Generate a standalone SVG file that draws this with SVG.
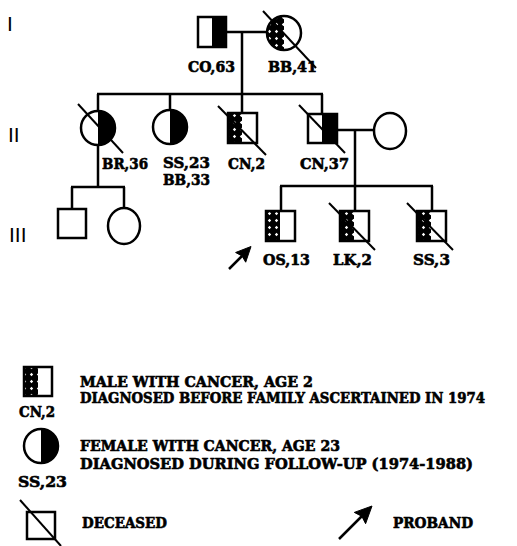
<svg xmlns="http://www.w3.org/2000/svg" width="517" height="546" viewBox="0 0 517 546">
<style>
.s{fill:none;stroke:#000;stroke-width:2.5}
.w{fill:#fff;stroke:#000;stroke-width:2.5}
.b{fill:#000;stroke:none}
.h{fill:url(#hatch);stroke:none}
.ln{stroke:#000;stroke-width:2.5;fill:none}
.d{stroke:#000;stroke-width:2;fill:none}
.lbl{font-family:"DejaVu Serif","Liberation Serif",serif;font-weight:bold;font-size:14px;fill:#000;stroke:#000;stroke-width:0.6}
.leg{font-family:"DejaVu Serif","Liberation Serif",serif;font-weight:bold;font-size:14px;fill:#000;stroke:#000;stroke-width:0.6}
.gen{font-family:"Liberation Sans",Arial,sans-serif;font-size:21px;fill:#000}
.ah{fill:#000;stroke:#000;stroke-width:1;stroke-linejoin:round}
</style>
<defs>
<pattern id="hatch" patternUnits="userSpaceOnUse" width="7" height="7">
<rect width="7" height="7" fill="#000"/>
<polygon points="3.5,1.8 5.2,3.5 3.5,5.2 1.8,3.5" fill="#fff"/>
</pattern>
</defs>

<g id="generation-labels">
<text class="gen" x="7" y="31">I</text>
<text class="gen" x="8" y="142">II</text>
<text class="gen" x="9" y="242">III</text>
</g>

<g id="connectors">
<line class="ln" x1="226" y1="32" x2="267" y2="32"/>
<line class="ln" x1="242" y1="32" x2="242" y2="113"/>
<line class="ln" x1="97" y1="94" x2="323" y2="94"/>
<line class="ln" x1="98" y1="94" x2="98" y2="111"/>
<line class="ln" x1="170" y1="94" x2="170" y2="110"/>
<line class="ln" x1="322" y1="94" x2="322" y2="114"/>
<line class="ln" x1="98" y1="145" x2="98" y2="187"/>
<line class="ln" x1="71" y1="187" x2="125" y2="187"/>
<line class="ln" x1="72" y1="187" x2="72" y2="209"/>
<line class="ln" x1="124" y1="187" x2="124" y2="208"/>
<line class="ln" x1="337" y1="130" x2="374" y2="130"/>
<line class="ln" x1="355" y1="130" x2="355" y2="186"/>
<line class="ln" x1="280" y1="186" x2="433" y2="186"/>
<line class="ln" x1="281" y1="186" x2="281" y2="211"/>
<line class="ln" x1="355" y1="186" x2="355" y2="211"/>
<line class="ln" x1="432" y1="186" x2="432" y2="211"/>
</g>

<g id="I-1">
<rect class="b" x="212" y="17" width="14" height="30"/>
<rect class="s" x="198" y="17" width="28" height="30"/>
<text class="lbl" x="188" y="72" textLength="47" lengthAdjust="spacingAndGlyphs">CO,63</text>
</g>

<g id="I-2">
<path class="h" d="M284,16 A17,17 0 0 0 284,50 Z"/>
<circle class="s" cx="284" cy="33" r="17"/>
<line class="d" x1="263" y1="11" x2="316" y2="68"/>
<text class="lbl" x="268" y="72" textLength="49" lengthAdjust="spacingAndGlyphs">BB,41</text>
</g>

<g id="II-1">
<path class="b" d="M98,111 A17,17 0 0 1 98,145 Z"/>
<circle class="s" cx="98" cy="128" r="17"/>
<line class="d" x1="78" y1="104" x2="123" y2="153"/>
<text class="lbl" x="102" y="169" textLength="46" lengthAdjust="spacingAndGlyphs">BR,36</text>
</g>

<g id="II-2">
<path class="b" d="M170,110 A17,17 0 0 1 170,144 Z"/>
<circle class="s" cx="170" cy="127" r="17"/>
<text class="lbl" x="163" y="168" textLength="47" lengthAdjust="spacingAndGlyphs">SS,23</text>
<text class="lbl" x="163" y="185" textLength="47" lengthAdjust="spacingAndGlyphs">BB,33</text>
</g>

<g id="II-3">
<rect class="h" x="228" y="113" width="14" height="30"/>
<rect class="s" x="228" y="113" width="29" height="30"/>
<line class="d" x1="218" y1="106" x2="266" y2="155"/>
<text class="lbl" x="228" y="169" textLength="37" lengthAdjust="spacingAndGlyphs">CN,2</text>
</g>

<g id="II-4">
<rect class="b" x="322" y="114" width="15" height="29"/>
<rect class="s" x="308" y="114" width="29" height="29"/>
<line class="d" x1="299" y1="105" x2="345" y2="153"/>
<text class="lbl" x="300" y="169" textLength="49" lengthAdjust="spacingAndGlyphs">CN,37</text>
</g>

<g id="II-5">
<ellipse class="w" cx="390" cy="131" rx="16" ry="18"/>
</g>

<g id="III-1">
<rect class="w" x="58" y="209" width="28" height="29"/>
</g>

<g id="III-2">
<ellipse class="w" cx="124" cy="226" rx="16" ry="18"/>
</g>

<g id="III-3">
<rect class="h" x="266" y="211" width="14" height="30"/>
<rect class="s" x="266" y="211" width="29" height="30"/>
<text class="lbl" x="263" y="265" textLength="47" lengthAdjust="spacingAndGlyphs">OS,13</text>
<line class="ln" x1="229" y1="269" x2="242" y2="256"/>
<polygon class="ah" points="251,246.5 245.7,262.2 242,255.9 235.6,252.5"/>
</g>

<g id="III-4">
<rect class="h" x="340" y="211" width="14" height="30"/>
<rect class="s" x="340" y="211" width="29" height="30"/>
<line class="d" x1="329" y1="203" x2="375" y2="250"/>
<text class="lbl" x="333" y="265" textLength="39" lengthAdjust="spacingAndGlyphs">LK,2</text>
</g>

<g id="III-5">
<rect class="h" x="417" y="211" width="14" height="30"/>
<rect class="s" x="417" y="211" width="29" height="30"/>
<line class="d" x1="407" y1="203" x2="453" y2="250"/>
<text class="lbl" x="413" y="265" textLength="37" lengthAdjust="spacingAndGlyphs">SS,3</text>
</g>

<g id="legend-male">
<rect class="h" x="24" y="367" width="14" height="29"/>
<rect class="s" x="24" y="367" width="28" height="29"/>
<text class="lbl" x="19" y="417" textLength="36" lengthAdjust="spacingAndGlyphs">CN,2</text>
<text class="leg" x="80" y="387" textLength="233" lengthAdjust="spacingAndGlyphs">MALE WITH CANCER, AGE 2</text>
<text class="leg" x="80" y="403" textLength="405" lengthAdjust="spacingAndGlyphs">DIAGNOSED BEFORE FAMILY ASCERTAINED IN 1974</text>
</g>

<g id="legend-female">
<path class="b" d="M41,429 A17,17 0 0 1 41,463 Z"/>
<circle class="s" cx="41" cy="446" r="17"/>
<text class="lbl" x="18" y="487" textLength="49" lengthAdjust="spacingAndGlyphs">SS,23</text>
<text class="leg" x="80" y="451" textLength="260" lengthAdjust="spacingAndGlyphs">FEMALE WITH CANCER, AGE 23</text>
<text class="leg" x="80" y="469" textLength="393" lengthAdjust="spacingAndGlyphs">DIAGNOSED DURING FOLLOW-UP (1974-1988)</text>
</g>

<g id="legend-deceased">
<rect class="s" x="27" y="512" width="28" height="27"/>
<line class="d" x1="20" y1="500" x2="61" y2="546"/>
<text class="leg" x="82" y="528" textLength="85" lengthAdjust="spacingAndGlyphs">DECEASED</text>
</g>

<g id="legend-proband">
<line class="ln" x1="339" y1="539" x2="362" y2="516"/>
<polygon class="ah" points="372,506 365.6,523.7 361.8,516.3 354.3,512.4"/>
<text class="leg" x="393" y="528" textLength="80" lengthAdjust="spacingAndGlyphs">PROBAND</text>
</g>
</svg>
